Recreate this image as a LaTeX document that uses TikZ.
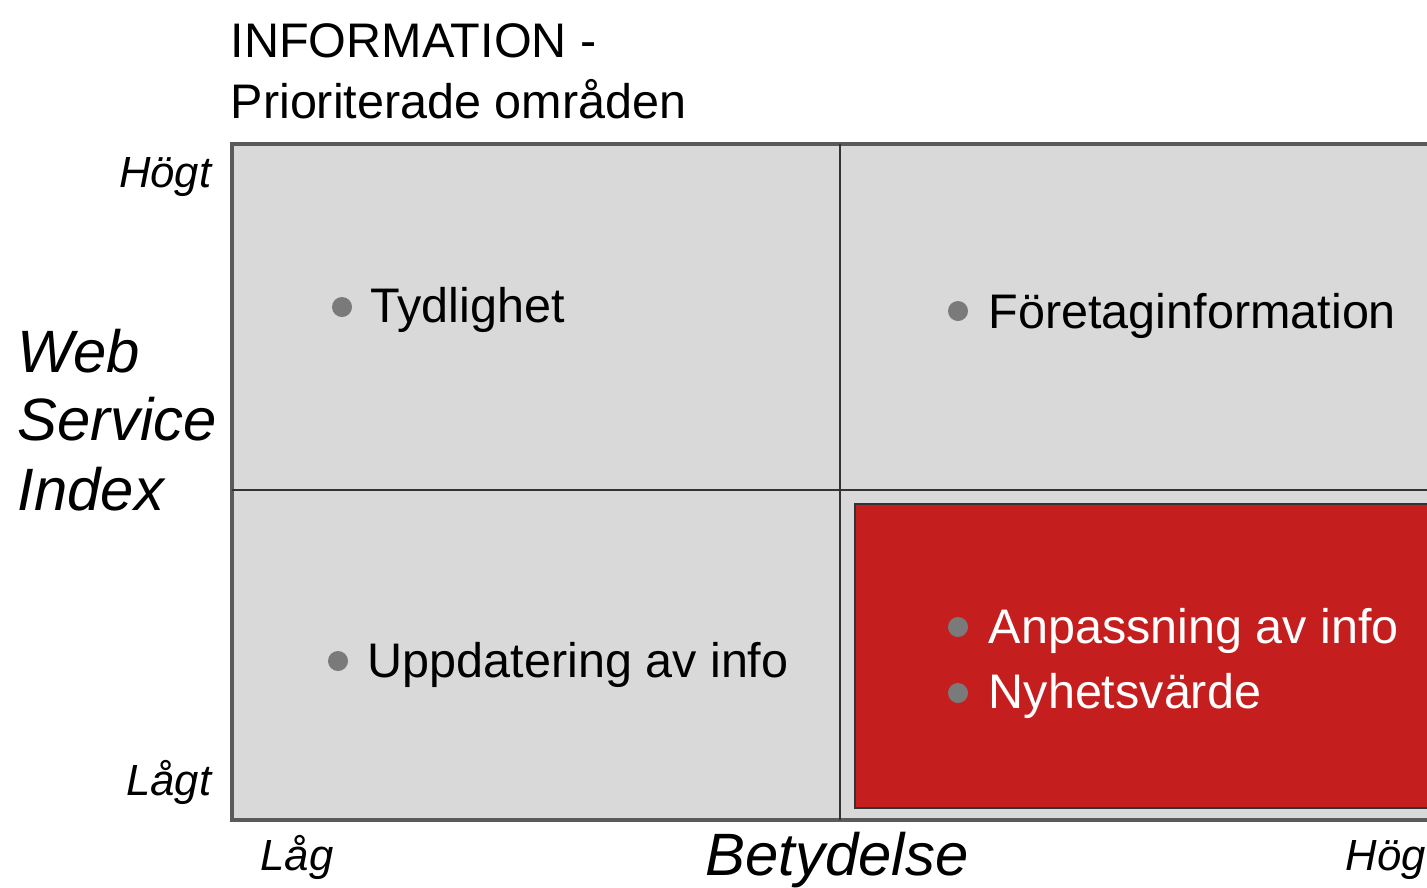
\documentclass[tikz,border=0pt]{standalone}
\usepackage{fontspec}
\setmainfont{Liberation Sans}
\usetikzlibrary{positioning}
\definecolor{quadgray}{HTML}{D9D9D9}
\definecolor{framegray}{HTML}{5A5A5A}
\definecolor{dotgray}{HTML}{7A7A7A}
\definecolor{hotred}{HTML}{C41E1E}
\tikzset{
  lbl/.style={anchor=base west, inner sep=0pt, font=\fontsize{13.8}{16}\selectfont},
  dot/.style={circle, fill=dotgray, inner sep=0pt, minimum size=0.2cm},
  axislbl/.style={inner sep=0pt, font=\fontsize{17}{19.6}\selectfont\itshape},
  ticklbl/.style={inner sep=0pt, font=\fontsize{12.4}{14}\selectfont\itshape},
}

\begin{document}
\begin{tikzpicture}[x=0.01cm, y=-0.01cm]
\clip (0,0) rectangle (1427,887);
\fill[white] (0,0) rectangle (1427,887);
% grid
\draw[framegray, line width=0.035cm, fill=quadgray] (232,144) rectangle (1500,820);
\draw[black!80, line width=0.022cm] (840,144) -- (840,820);
\draw[black!80, line width=0.022cm] (232,490) -- (1500,490);
\draw[black!80, line width=0.015cm, fill=hotred] (855,504) rectangle (1500,808);
% title
\node[lbl] (title1) at (230,57) {INFORMATION -};
\node[lbl] (title2) at (230,118) {Prioriterade områden};
% axes
\node[axislbl, anchor=base west] (ws1) at (17,372) {Web};
\node[axislbl, anchor=base west] (ws2) at (17,440) {Service};
\node[axislbl, anchor=base west] (ws3) at (17,510) {Index};
\node[axislbl, anchor=base] (betyd) at (837,875) {Betydelse};
\node[ticklbl, anchor=base east] (hogt) at (212,187) {Högt};
\node[ticklbl, anchor=base east] (lagt) at (212,795) {Lågt};
\node[ticklbl, anchor=base west] (lag) at (260,870) {Låg};
\node[ticklbl, anchor=base west] (hog) at (1345,870) {Hög};
% items
\node[dot] (d1) at (342,307) {};
\node[lbl] (tydl) at (370,322) {Tydlighet};
\node[dot] (d2) at (958,311) {};
\node[lbl] (foret) at (988,328) {Företaginformation};
\node[dot] (d3) at (338,661) {};
\node[lbl] (uppd) at (367,677) {Uppdatering av info};
\node[dot] (d4) at (958,627) {};
\node[lbl, white] (anpas) at (988,643) {Anpassning av info};
\node[dot] (d5) at (958,693) {};
\node[lbl, white] (nyhet) at (988,708) {Nyhetsvärde};
\end{tikzpicture}
\end{document}
